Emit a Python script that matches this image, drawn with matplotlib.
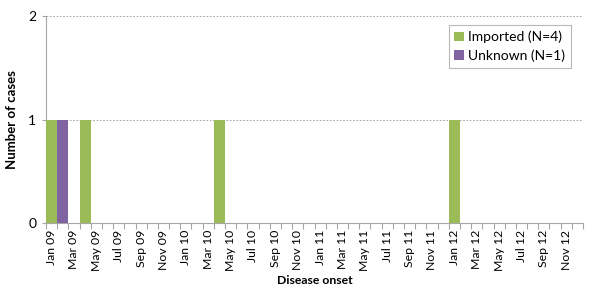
import numpy as np
import matplotlib.pyplot as plt

plt.rcParams['font.family'] = ['Lato', 'DejaVu Sans']

# one entry per month, Jan 2009 .. Dec 2012
month_names = ['Jan', 'Feb', 'Mar', 'Apr', 'May', 'Jun',
               'Jul', 'Aug', 'Sep', 'Oct', 'Nov', 'Dec']
years = ['09', '10', '11', '12']
months = [m + ' ' + y for y in years for m in month_names]

imported = [1, 0, 0, 1, 0, 0, 0, 0, 0, 0, 0, 0,
            0, 0, 0, 1, 0, 0, 0, 0, 0, 0, 0, 0,
            0, 0, 0, 0, 0, 0, 0, 0, 0, 0, 0, 0,
            1, 0, 0, 0, 0, 0, 0, 0, 0, 0, 0, 0]
unknown = [0, 1, 0, 0, 0, 0, 0, 0, 0, 0, 0, 0,
           0, 0, 0, 0, 0, 0, 0, 0, 0, 0, 0, 0,
           0, 0, 0, 0, 0, 0, 0, 0, 0, 0, 0, 0,
           0, 0, 0, 0, 0, 0, 0, 0, 0, 0, 0, 0]

green = '#9BBB59'
purple = '#8064A2'
axis_grey = '#A6A6A6'

fig = plt.figure(figsize=(6.0, 2.99), dpi=100)
ax = fig.add_axes([0.0767, 0.254, 0.895, 0.692])

x = np.arange(len(months))
ax.bar(x, imported, width=1.0, color=green, label='Imported (N=4)', zorder=3)
ax.bar(x, unknown, width=1.0, bottom=imported, color=purple,
       label='Unknown (N=1)', zorder=3)

ax.set_xlim(-0.5, len(months) - 0.5)
ax.set_ylim(0, 2)

# y axis
ax.set_yticks([0, 1, 2])
ax.tick_params(axis='y', length=3, color=axis_grey, labelsize=10, pad=4)
ax.yaxis.grid(True, linestyle=(0, (2, 2)), color='#9A9A9A', linewidth=0.6, zorder=0)

# x axis: tick marks at category boundaries, labels every other month
ax.set_xticks(np.arange(-0.5, len(months)), minor=False)
ax.set_xticklabels([])
ax.tick_params(axis='x', which='major', length=4, color=axis_grey)
ax.set_xticks(x[::2], minor=True)
ax.set_xticklabels(months[::2], minor=True, rotation=90, fontsize=8.8)
ax.tick_params(axis='x', which='minor', length=0, pad=5)

for side in ['top', 'right']:
    ax.spines[side].set_visible(False)
for side in ['left', 'bottom']:
    ax.spines[side].set_color(axis_grey)
    ax.spines[side].set_linewidth(0.8)

ax.set_ylabel('Number of cases', fontsize=9.5, fontweight='bold', labelpad=7)
ax.set_xlabel('Disease onset', fontsize=8.8, fontweight='bold', labelpad=3)

leg = ax.legend(loc='upper right', bbox_to_anchor=(0.99, 0.99), fontsize=10,
                frameon=True, fancybox=False, handlelength=0.7,
                handleheight=0.7, handletextpad=0.3, borderpad=0.4,
                labelspacing=0.45)
leg.get_frame().set_edgecolor(axis_grey)
leg.get_frame().set_linewidth(0.8)

fig.savefig('out.png', dpi=100)
